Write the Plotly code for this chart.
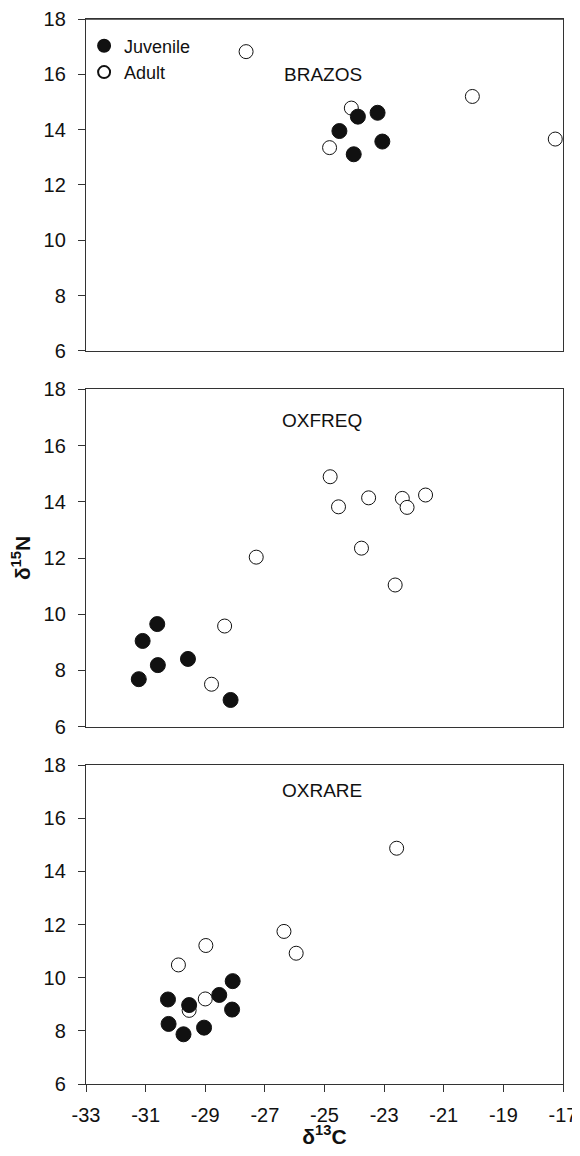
import plotly.graph_objects as go

# ---- data (delta13C, delta15N) ----
panels = ["BRAZOS", "OXFREQ", "OXRARE"]

brazos_juv_c = [-23.88, -23.22, -24.50, -23.06, -24.02]
brazos_juv_n = [14.47, 14.61, 13.95, 13.57, 13.11]
brazos_adu_c = [-27.63, -20.04, -17.26, -24.10, -24.83]
brazos_adu_n = [16.82, 15.20, 13.66, 14.78, 13.35]

oxfreq_juv_c = [-30.61, -31.10, -30.59, -31.23, -29.58, -28.15]
oxfreq_juv_n = [9.65, 9.05, 8.19, 7.69, 8.41, 6.95]
oxfreq_adu_c = [-24.81, -24.53, -23.52, -22.39, -22.23, -21.61, -23.76, -22.63, -27.29, -28.35, -28.79]
oxfreq_adu_n = [14.89, 13.82, 14.14, 14.12, 13.80, 14.24, 12.35, 11.04, 12.03, 9.58, 7.51]

oxrare_juv_c = [-30.25, -29.54, -28.53, -28.08, -28.10, -30.23, -29.73, -29.04]
oxrare_juv_n = [9.18, 8.97, 9.35, 9.87, 8.80, 8.26, 7.87, 8.12]
oxrare_adu_c = [-22.58, -26.36, -25.95, -28.98, -29.90, -29.00, -29.54]
oxrare_adu_n = [14.87, 11.74, 10.92, 11.21, 10.48, 9.20, 8.77]

x_ticks = [-33, -31, -29, -27, -25, -23, -21, -19, -17]
y_ticks = [6, 8, 10, 12, 14, 16, 18]

juv = [(brazos_juv_c, brazos_juv_n), (oxfreq_juv_c, oxfreq_juv_n), (oxrare_juv_c, oxrare_juv_n)]
adu = [(brazos_adu_c, brazos_adu_n), (oxfreq_adu_c, oxfreq_adu_n), (oxrare_adu_c, oxrare_adu_n)]

FONT = "Arial, Liberation Sans, Helvetica, sans-serif"
fig = go.Figure()

for i in range(3):
    xa = "x" if i == 0 else f"x{i+1}"
    ya = "y" if i == 0 else f"y{i+1}"
    fig.add_trace(go.Scatter(
        x=adu[i][0], y=adu[i][1], mode="markers", name="Adult",
        xaxis=xa, yaxis=ya, showlegend=(i == 0), legendrank=2, cliponaxis=False,
        marker=dict(size=14, color="white", line=dict(color="#111", width=1)),
    ))
    fig.add_trace(go.Scatter(
        x=juv[i][0], y=juv[i][1], mode="markers", name="Juvenile",
        xaxis=xa, yaxis=ya, showlegend=(i == 0), legendrank=1, cliponaxis=False,
        marker=dict(size=15, color="#111", line=dict(color="#111", width=1)),
    ))

domains = [[0.6883, 1.0], [0.3355, 0.6523], [0.0, 0.2995]]
axis_line = dict(showline=True, linecolor="#333", linewidth=1.4, mirror=True,
                 showgrid=False, zeroline=False, automargin=False,
                 ticklabeloverflow="allow")

# the page body adds an 8px offset, so the figure is smaller than the window
layout = dict(
    width=572, height=1140,
    margin=dict(l=78, r=17, t=11, b=64),
    paper_bgcolor="white", plot_bgcolor="white",
    font=dict(family=FONT, color="#111"),
    showlegend=True,
    legend=dict(x=-0.004, y=0.992, xanchor="left", yanchor="top",
                bgcolor="rgba(0,0,0,0)", font=dict(size=18, family=FONT),
                itemsizing="constant", traceorder="normal", tracegroupgap=0),
)

for i in range(3):
    xk = "xaxis" if i == 0 else f"xaxis{i+1}"
    yk = "yaxis" if i == 0 else f"yaxis{i+1}"
    ya = "y" if i == 0 else f"y{i+1}"
    xa = "x" if i == 0 else f"x{i+1}"
    last = (i == 2)
    layout[xk] = dict(
        axis_line, domain=[0, 1], range=[-33, -17], anchor=ya,
        tickvals=x_ticks if last else [], ticktext=[str(v) for v in x_ticks] if last else [],
        ticks="outside" if last else "", ticklen=7, tickwidth=1, tickcolor="#333",
        showticklabels=last, tickfont=dict(size=20, family=FONT),
        ticklabelstandoff=6,
    )
    if last:
        layout[xk]["title"] = dict(text="<b>δ<sup>13</sup>C</b>", font=dict(size=21, family=FONT),
                                   standoff=2)
    layout[yk] = dict(
        axis_line, domain=domains[i], range=[6, 18], anchor=xa,
        tickvals=y_ticks, ticktext=[str(v) for v in y_ticks],
        ticks="outside", ticklen=7, tickwidth=1, tickcolor="#333",
        tickfont=dict(size=20, family=FONT), ticklabelstandoff=8,
    )
    if i == 1:
        layout[yk]["title"] = dict(text="<b>δ<sup>15</sup>N</b>", font=dict(size=21, family=FONT),
                                   standoff=10)

fig.update_layout(**layout)

# reinforce the top edge of the first panel
fig.add_shape(type="line", xref="x domain", yref="y domain", x0=0, x1=1, y0=1, y1=1,
              layer="above", line=dict(color="#333", width=1.6))

label_pos = [(-25.05, 16.0), (-25.1, 16.9), (-25.1, 17.05)]
for i, name in enumerate(panels):
    xa = "x" if i == 0 else f"x{i+1}"
    ya = "y" if i == 0 else f"y{i+1}"
    fig.add_annotation(x=label_pos[i][0], y=label_pos[i][1], xref=xa, yref=ya,
                       text=name, showarrow=False, font=dict(size=19, family=FONT, color="#111"))

fig.write_html("out.html")
